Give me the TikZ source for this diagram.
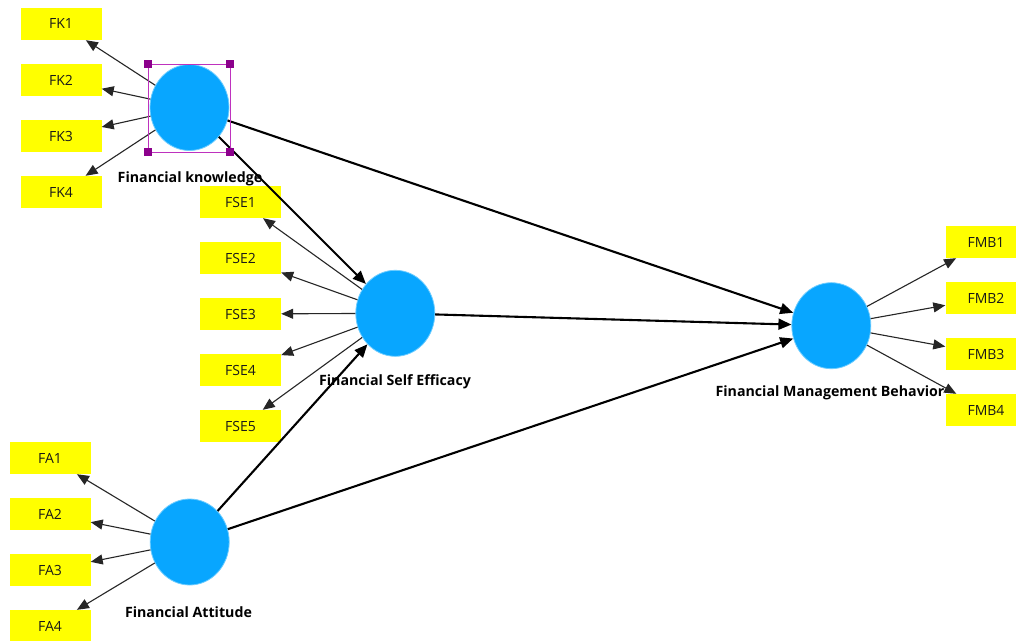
\documentclass[tikz,border=0pt]{standalone}
\usepackage{fontspec}
\setmainfont{Open Sans}
\usetikzlibrary{shapes.geometric,arrows.meta}
\definecolor{latent}{RGB}{8,166,255}
\definecolor{latentborder}{RGB}{110,205,255}
\definecolor{selpurple}{RGB}{190,50,190}
\definecolor{handlepurple}{RGB}{140,0,140}
\definecolor{indyellow}{RGB}{255,255,0}
\begin{document}
\begin{tikzpicture}[x=1pt,y=-1pt,
  ind/.style={rectangle, fill=indyellow, minimum width=81pt, minimum height=32pt, inner sep=0pt, text=black!90, font=\fontsize{14}{16}\selectfont},
  lat/.style={ellipse, fill=latent, draw=latentborder, line width=0.8pt, minimum width=79pt, minimum height=86pt, inner sep=0pt},
  lbl/.style={inner sep=0pt, font=\bfseries\fontsize{14.2}{16}\selectfont},
  load/.style={draw=black!85, line width=1.1pt, -{Triangle[length=12pt,width=10pt]}},
  struct/.style={draw=black, line width=2.1pt, -{Triangle[length=13pt,width=11pt]}},
  handle/.style={fill=handlepurple}
]
\useasboundingbox (0,0) rectangle (1016,640);
\fill[white] (0,0) rectangle (1016,640);

% indicator boxes
\node[ind] (fk1) at (61,24) {FK1};
\node[ind] (fk2) at (61,80) {FK2};
\node[ind] (fk3) at (61,136) {FK3};
\node[ind] (fk4) at (61,192) {FK4};
\node[ind] (fse1) at (240.5,202) {FSE1};
\node[ind] (fse2) at (240.5,258) {FSE2};
\node[ind] (fse3) at (240.5,314) {FSE3};
\node[ind] (fse4) at (240.5,370) {FSE4};
\node[ind] (fse5) at (240.5,426) {FSE5};
\node[ind] (fa1) at (50,458) {FA1};
\node[ind] (fa2) at (50,514) {FA2};
\node[ind] (fa3) at (50,570) {FA3};
\node[ind] (fa4) at (50,626) {FA4};
\node[ind] (fmb1) at (986,242) {FMB1};
\node[ind] (fmb2) at (986,298) {FMB2};
\node[ind] (fmb3) at (986,354) {FMB3};
\node[ind] (fmb4) at (986,410) {FMB4};

% latent variables
\node[lat] (fk) at (189.5,107.5) {};
\node[lat] (fse) at (395.3,313.3) {};
\node[lat] (fmb) at (831.3,325.7) {};
\node[lat] (fa) at (189.7,542) {};

% labels
\node[lbl] (fkl) at (190,179) {Financial knowledge};
\node[lbl] (fsel) at (395,382) {Financial Self Efficacy};
\node[lbl] (fmbl) at (830,393) {Financial Management Behavior};
\node[lbl] (fal) at (188.5,612.5) {Financial Attitude};

% loadings
\foreach \i in {1,2,3,4} {\draw[load] (fk) -- (fk\i);}
\foreach \i in {1,2,3,4,5} {\draw[load] (fse) -- (fse\i);}
\foreach \i in {1,2,3,4} {\draw[load] (fa) -- (fa\i);}
\foreach \i in {1,2,3,4} {\draw[load] (fmb) -- (fmb\i);}

% structural paths
\draw[struct] (fk) -- (fse);
\draw[struct] (fk) -- (fmb);
\draw[struct] (fse) -- (fmb);
\draw[struct] (fa) -- (fse);
\draw[struct] (fa) -- (fmb);

% selection frame
\draw[selpurple, line width=1pt] (148,64) rectangle (230,152);
\fill[handle] (144,60) rectangle (152,68);
\fill[handle] (226,60) rectangle (234,68);
\fill[handle] (144,148) rectangle (152,156);
\fill[handle] (226,148) rectangle (234,156);
\end{tikzpicture}
\end{document}
